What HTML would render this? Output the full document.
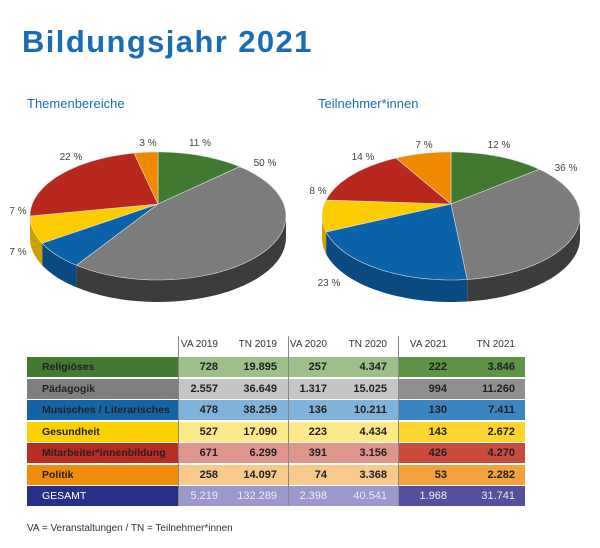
<!DOCTYPE html><html><head><meta charset="utf-8"><style>
body{margin:0;width:600px;height:548px;background:#fff;font-family:"Liberation Sans",sans-serif;position:relative;overflow:hidden}
.a{position:absolute;white-space:nowrap}
.t{font-weight:bold;color:#1a6db5;font-size:31px;left:22px;top:24px;letter-spacing:1.4px}
.s{color:#1a6db5;font-size:13px}
.p{font-size:10px;color:#444;transform:translateX(-50%)}
.r{position:absolute;height:20px;font-size:11px;font-weight:bold;line-height:20px;color:#222}
.v{position:absolute;text-align:right;width:60px}
.h{font-size:10px;color:#333;position:absolute;top:339px;text-align:right;width:60px}
</style></head><body>
<div class="a t">Bildungsjahr 2021</div>
<div class="a s" style="left:27px;top:96px">Themenbereiche</div>
<div class="a s" style="left:318px;top:96px">Teilnehmer*innen</div>
<svg id="sv" width="600" height="330" style="position:absolute;left:0;top:0"></svg>
<div class="a p" style="left:200px;top:138px">11 %</div>
<div class="a p" style="left:265px;top:158px">50 %</div>
<div class="a p" style="left:148px;top:138px">3 %</div>
<div class="a p" style="left:71px;top:152px">22 %</div>
<div class="a p" style="left:18px;top:206px">7 %</div>
<div class="a p" style="left:18px;top:247px">7 %</div>
<div class="a p" style="left:499px;top:140px">12 %</div>
<div class="a p" style="left:566px;top:163px">36 %</div>
<div class="a p" style="left:424px;top:140px">7 %</div>
<div class="a p" style="left:363px;top:152px">14 %</div>
<div class="a p" style="left:318px;top:186px">8 %</div>
<div class="a p" style="left:329px;top:278px">23 %</div>
<div id="tb"></div>
<div class="a" style="left:27px;top:523px;font-size:10px;color:#333">VA = Veranstaltungen / TN = Teilnehmer*innen</div>
<script>
var sv=document.getElementById('sv'),h='';
function P(cx,cy,rx,ry,t){return [cx+rx*Math.sin(t),cy-ry*Math.cos(t)];}
function pie(cx,cy,rx,ry,d,vals,cols,sides){
 var a=0,sl=[],ay=cy-12;vals.forEach(function(v,i){var b=a+v/100*2*Math.PI;sl.push([a,b,i]);a=b;});
 sl.forEach(function(s){var a0=Math.max(s[0],Math.PI/2),a1=Math.min(s[1],Math.PI*1.5);if(a1<=a0)return;
  var p='',n=30,k,t,q;for(k=0;k<=n;k++){t=a0+(a1-a0)*k/n;q=P(cx,cy,rx,ry,t);p+=(k?'L':'M')+q[0].toFixed(1)+' '+q[1].toFixed(1);}
  for(k=n;k>=0;k--){t=a0+(a1-a0)*k/n;q=P(cx,cy+d,rx,ry,t);p+='L'+q[0].toFixed(1)+' '+q[1].toFixed(1);}
  h+='<path d="'+p+'Z" fill="'+sides[s[2]]+'"/>';});
 sl.forEach(function(s){var p='M'+cx+' '+ay,n=40,k,t,q;for(k=0;k<=n;k++){t=s[0]+(s[1]-s[0])*k/n;q=P(cx,cy,rx,ry,t);p+='L'+q[0].toFixed(1)+' '+q[1].toFixed(1);}
  h+='<path d="'+p+'Z" fill="'+cols[s[2]]+'" stroke="#ddd" stroke-width="0.6"/>';});
}
var C=['#3f7a30','#7c7c7c','#0b62a8','#fdcc00','#b8281e','#ef8a00'],S=['#2c5722','#3c3c3c','#0b4a80','#c9a200','#8a1e16','#b96a00'];
pie(158,216,128,64,22,[11,50,7,7,22,3],C,S);
pie(451,216,129,64,22,[12,36,23,8,14,7],C,S);
sv.innerHTML=h;
var rows=[['Religiöses','#427a30','#9dbf88','#5c9444',['728','19.895','257','4.347','222','3.846']],
['Pädagogik','#7f7f7f','#c5c5c5','#8f8f8f',['2.557','36.649','1.317','15.025','994','11.260']],
['Musisches / Literarisches','#1463a5','#80b3d9','#3b86c0',['478','38.259','136','10.211','130','7.411']],
['Gesundheit','#fdd000','#fde98a','#fcd52e',['527','17.090','223','4.434','143','2.672']],
['Mitarbeiter*innenbildung','#b82d21','#de958b','#c84b3e',['671','6.299','391','3.156','426','4.270']],
['Politik','#ef8d0a','#f7c98a','#f2a23a',['258','14.097','74','3.368','53','2.282']],
['GESAMT','#282f86','#9c97cc','#55509e',['5.219','132.289','2.398','40.541','1.968','31.741']]];
var R=[218,277,327,387,447,515],hd=['VA 2019','TN  2019','VA 2020','TN  2020','VA 2021','TN 2021'],o='';
hd.forEach(function(x,i){o+='<div class="h" style="left:'+(R[i]-60)+'px">'+x+'</div>';});
rows.forEach(function(r,j){var y=357+j*21.5,g=j==6,tc=g?'#fff':'#222';
 o+='<div class="r" style="left:27px;top:'+y+'px;width:151px;overflow:hidden;background:'+r[1]+';color:'+tc+';font-weight:'+(g?'normal':'bold')+';font-size:10.5px"><span style="padding-left:15px">'+r[0]+'</span></div>';
 o+='<div class="r" style="left:178px;top:'+y+'px;width:220px;background:'+r[2]+'"></div>';
 o+='<div class="r" style="left:398px;top:'+y+'px;width:127px;background:'+r[3]+'"></div>';
 r[4].forEach(function(v,i){o+='<div class="r v" style="left:'+(R[i]-60)+'px;top:'+y+'px;color:'+(g?'#eee':'#222')+';font-weight:'+(g?'normal':'bold')+'">'+v+'</div>';});});
[178,288,398].forEach(function(x){o+='<div class="a" style="left:'+x+'px;top:336px;width:1px;height:170px;background:#888"></div>';});
document.getElementById('tb').innerHTML=o;
</script>
</body></html>
